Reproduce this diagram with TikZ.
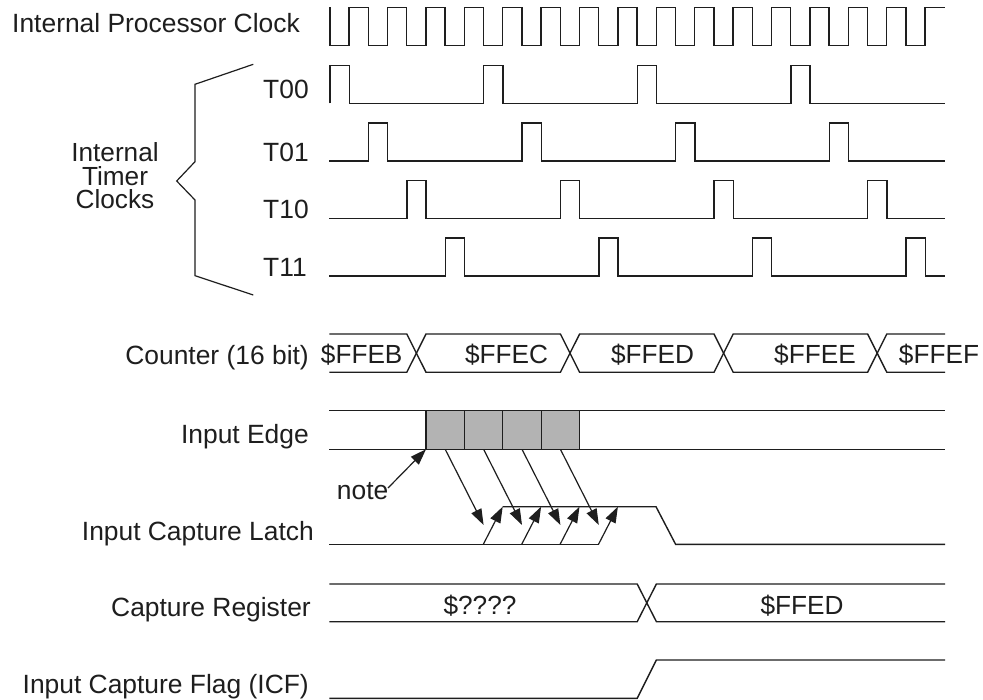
\documentclass[tikz,border=0pt]{standalone}
\usepackage{fontspec}
\setmainfont{Liberation Sans}
\usetikzlibrary{arrows.meta}
\definecolor{edgefill}{RGB}{179,179,179}
\definecolor{ink}{RGB}{30,30,30}
\begin{document}
\begin{tikzpicture}[x=1pt,y=-1pt,
  wave/.style={line width=1.4pt, line join=miter, draw=ink},
  lbl/.style={font=\fontsize{26.4}{28}\selectfont, inner sep=0pt, anchor=base east, text=ink},
  lblw/.style={font=\fontsize{26.4}{28}\selectfont, inner sep=0pt, anchor=base west, text=ink},
  val/.style={font=\fontsize{26.2}{28}\selectfont, inner sep=0pt, anchor=base, text=ink},
  stack/.style={font=\fontsize{26.2}{23.5}\selectfont, inner sep=0pt, align=center, anchor=north, text=ink},
  arr/.style={line width=1.2pt, draw=ink, -{Triangle[length=16pt,width=11pt]}},
  edgebox/.style={draw=ink, line width=1.2pt, fill=edgefill, minimum width=38.4pt, minimum height=38.6pt, inner sep=0pt, outer sep=0pt, anchor=north west},
]
\useasboundingbox[fill=white] (0,0) rectangle (983,700);

% ---------- labels ----------
\node[lbl] (lclk) at (300,32.3) {Internal Processor Clock};
\node[lblw] (lt00) at (263,98.3) {T00};
\node[lblw] (lt01) at (263,161.7) {T01};
\node[lblw] (lt10) at (263,218.3) {T10};
\node[lblw] (lt11) at (263,276.5) {T11};
\node[stack] (itc) at (115,142.5) {Internal\\Timer\\Clocks};
\node[lbl] (lcnt) at (309,365) {Counter (16 bit)};
\node[lbl] (ledge) at (309,444) {Input Edge};
\node[lbl] (llatch) at (314,540) {Input Capture Latch};
\node[lbl] (lreg) at (311,616.7) {Capture Register};
\node[lbl] (licf) at (309,693.3) {Input Capture Flag (ICF)};

% ---------- brace ----------
\draw[line width=1.2pt, draw=ink] (253.3,64.3) -- (195,84.3) -- (195,161.7) -- (176.7,181) -- (195,200) -- (195,275.7) -- (253.3,295);

% ---------- processor clock ----------
\draw[wave] (330,7.3) -- (330,45.7)
  foreach \i in {0,...,14} { -- ({349+38.4*\i},45.7) -- ({349+38.4*\i},7.3) -- ({368.2+38.4*\i},7.3) -- ({368.2+38.4*\i},45.7) }
  -- (925,45.7) -- (925,7.3) -- (945,7.3);

% ---------- timer clocks ----------
\draw[wave] (330,103.3) -- (330,65.7) -- (349.2,65.7) -- (349.2,103.3)
  foreach \p in {483.6,637.2,790.8} { -- (\p,103.3) -- (\p,65.7) -- ({\p+19.2},65.7) -- ({\p+19.2},103.3) }
  -- (945,103.3);
\draw[wave] (329.3,161)
  foreach \p in {368.4,522,675.6,829.2} { -- (\p,161) -- (\p,122.9) -- ({\p+19.2},122.9) -- ({\p+19.2},161) }
  -- (945,161);
\draw[wave] (329.3,218.4)
  foreach \p in {406.8,560.4,714,867.6} { -- (\p,218.4) -- (\p,180.7) -- ({\p+19.2},180.7) -- ({\p+19.2},218.4) }
  -- (945,218.4);
\draw[wave] (329.3,276)
  foreach \p in {445.2,598.8,752.4,906} { -- (\p,276) -- (\p,238.1) -- ({\p+19.2},238.1) -- ({\p+19.2},276) }
  -- (945,276);

% ---------- counter bus ----------
\draw[wave] (329.3,334) -- (406.8,334) -- (426,372.3) -- (560.4,372.3) -- (579.6,334) -- (714,334) -- (733.2,372.3) -- (867.6,372.3) -- (886.8,334) -- (945,334);
\draw[wave] (329.3,372.3) -- (406.8,372.3) -- (426,334) -- (560.4,334) -- (579.6,372.3) -- (714,372.3) -- (733.2,334) -- (867.6,334) -- (886.8,372.3) -- (945,372.3);
\node[val] (c1) at (361.7,363.5) {\$FFEB};
\node[val] (c2) at (506.5,363.5) {\$FFEC};
\node[val] (c3) at (652.5,363.5) {\$FFED};
\node[val] (c4) at (815,363.5) {\$FFEE};
\node[val] (c5) at (939,363.5) {\$FFEF};

% ---------- input edge ----------
\draw[wave] (329.3,410.7) -- (945,410.7);
\draw[wave] (329.3,449.3) -- (945,449.3);
\node[edgebox] (e1) at (426,410.7) {};
\node[edgebox] (e2) at (464.4,410.7) {};
\node[edgebox] (e3) at (502.8,410.7) {};
\node[edgebox] (e4) at (541.2,410.7) {};

% ---------- note ----------
\node[lblw] (note) at (336.7,500) {note};
\coordinate (nt) at (388,488);
\draw[arr] (nt) -- (e1.south west);

% ---------- input capture latch ----------
\draw[wave] (329.3,544.3) -- (598.5,544.3);
\draw[wave] (502.7,506.7) -- (656,506.7) -- (675.6,544.3) -- (945,544.3);
\foreach \k in {1,...,4} {
  \coordinate (sb\k) at ({483.3+38.4*(\k-1)},544.3);
  \coordinate (st\k) at ({502.7+38.4*(\k-1)},506.7);
  \coordinate (dt\k) at ({483.6+38.4*(\k-1)},525);
  \draw[arr] (sb\k) -- (st\k);
  \draw[arr] (e\k.south) -- (dt\k);
}

% ---------- capture register ----------
\draw[wave] (329.3,584) -- (637.2,584) -- (656.4,621.7) -- (945,621.7);
\draw[wave] (329.3,621.7) -- (637.2,621.7) -- (656.4,584) -- (945,584);
\node[val] (r1) at (480,614) {\$????};
\node[val] (r2) at (802,614) {\$FFED};

% ---------- ICF ----------
\draw[wave] (329.3,698.3) -- (637.2,698.3) -- (656.4,660) -- (945,660);
\end{tikzpicture}
\end{document}
